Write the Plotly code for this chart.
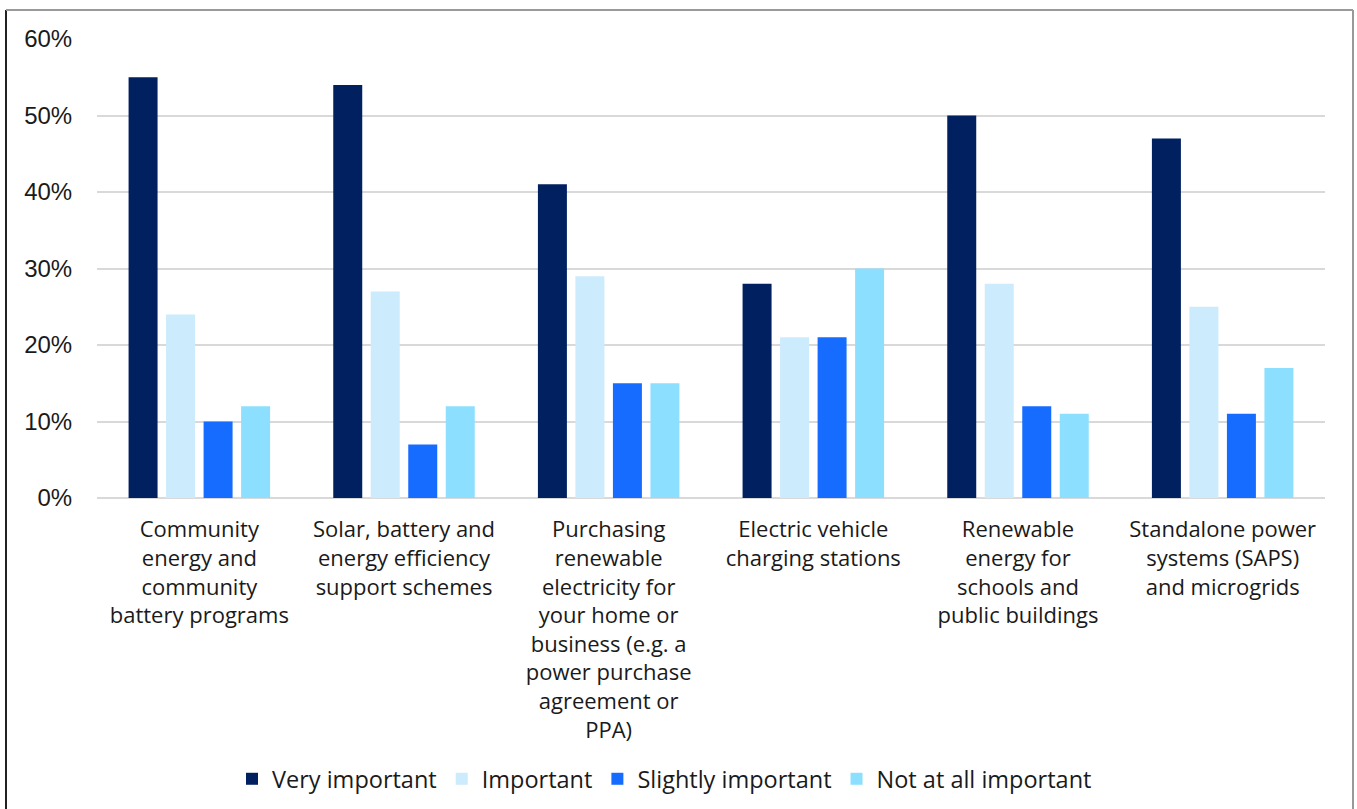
import plotly.graph_objects as go

categories = [
    "Community<br>energy and<br>community<br>battery programs",
    "Solar, battery and<br>energy efficiency<br>support schemes",
    "Purchasing<br>renewable<br>electricity for<br>your home or<br>business (e.g. a<br>power purchase<br>agreement or<br>PPA)",
    "Electric vehicle<br>charging stations",
    "Renewable<br>energy for<br>schools and<br>public buildings",
    "Standalone power<br>systems (SAPS)<br>and microgrids",
]
series_names = ["Very important", "Important", "Slightly important", "Not at all important"]
very_important = [0.55, 0.54, 0.41, 0.28, 0.50, 0.47]
important = [0.24, 0.27, 0.29, 0.21, 0.28, 0.25]
slightly_important = [0.10, 0.07, 0.15, 0.21, 0.12, 0.11]
not_at_all_important = [0.12, 0.12, 0.15, 0.30, 0.11, 0.17]
tick_values = [0, 0.1, 0.2, 0.3, 0.4, 0.5, 0.6]

colors = ["#002060", "#CCEBFC", "#166CFF", "#8CDFFF"]
values = [very_important, important, slightly_important, not_at_all_important]

W, H = 1357, 809
L, R, T, B = 97, 32, 39, 311
pw, ph = W - L - R, H - T - B

fig = go.Figure()
for name, vals, col in zip(series_names, values, colors):
    fig.add_trace(go.Bar(x=categories, y=vals, name=name, marker_color=col,
                         marker_line_width=0))

def px_x(x):
    return (x - L) / pw

def px_y(y):
    return (H - B - y) / ph

fig.update_layout(
    width=W, height=H,
    margin=dict(l=L, r=R, t=T, b=B),
    paper_bgcolor="white", plot_bgcolor="white",
    barmode="group", bargap=0.267, bargroupgap=0.227,
    font=dict(family="Open Sans", size=21, color="#1a1a1a"),
    showlegend=True,
    legend=dict(orientation="h", xref="container", x=232 / W, xanchor="left",
                yref="container", y=(H - 779) / H, yanchor="middle",
                font=dict(size=23.5), itemwidth=30, traceorder="normal"),
    xaxis=dict(showgrid=False, showline=False, ticks="outside", ticklen=12,
               tickcolor="rgba(0,0,0,0)", tickfont=dict(size=22),
               tickangle=0, automargin=False),
    yaxis=dict(range=[0, 0.6], tickvals=tick_values, tickformat=".0%",
               showgrid=True, gridcolor="#D9D9D9", gridwidth=2,
               zeroline=True, zerolinecolor="#D9D9D9", zerolinewidth=2,
               showline=False, ticks="outside", ticklen=19, tickcolor="rgba(0,0,0,0)",
               tickfont=dict(size=24, family="Liberation Sans"), automargin=False),
    shapes=[
        dict(type="line", xref="paper", yref="paper", x0=px_x(6), x1=px_x(6),
             y0=px_y(10), y1=px_y(830), line=dict(color="#222222", width=2)),
        dict(type="line", xref="paper", yref="paper", x0=px_x(1353), x1=px_x(1353),
             y0=px_y(10), y1=px_y(830), line=dict(color="#999999", width=2)),
        dict(type="line", xref="paper", yref="paper", x0=px_x(6), x1=px_x(1353),
             y0=px_y(10), y1=px_y(10), line=dict(color="#999999", width=2)),
    ],
)
fig.write_html("out.html", config={"displayModeBar": False},
               post_script="document.body.style.margin='0';document.body.style.overflow='hidden';")
